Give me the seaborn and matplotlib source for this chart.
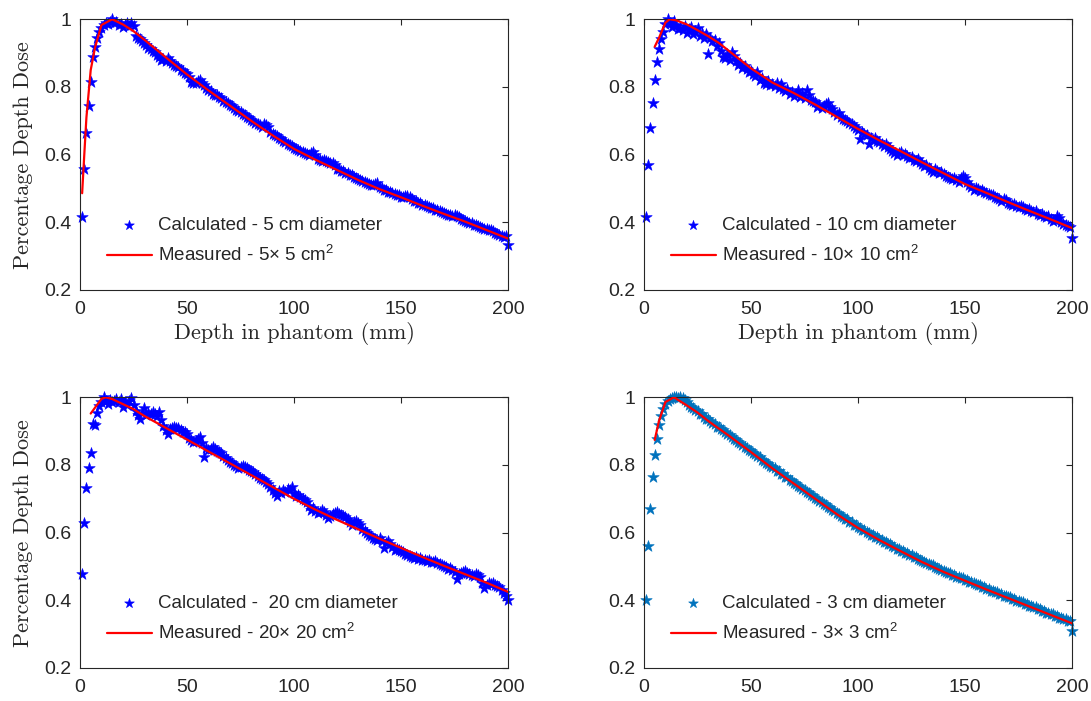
import numpy as np
import pandas as pd
import matplotlib
matplotlib.use("Agg")
import matplotlib.pyplot as plt
import seaborn as sns

# ---------------- data ----------------
depth_calc = np.arange(1, 201)  # mm, calculated points every 1 mm

calc_5cm = [
    0.417, 0.558, 0.664, 0.745, 0.815, 0.889, 0.918, 0.945, 0.962, 0.975,
    0.983, 0.990, 0.985, 0.992, 1.000, 0.988, 0.993, 0.982, 0.986, 0.976,
    0.984, 0.990, 0.981, 0.988, 0.979, 0.952, 0.946, 0.941, 0.937, 0.931,
    0.925, 0.915, 0.912, 0.905, 0.903, 0.895, 0.888, 0.880, 0.884, 0.878,
    0.886, 0.877, 0.872, 0.866, 0.862, 0.860, 0.851, 0.846, 0.840, 0.838,
    0.829, 0.815, 0.812, 0.813, 0.817, 0.820, 0.812, 0.806, 0.798, 0.791,
    0.789, 0.780, 0.775, 0.776, 0.771, 0.766, 0.760, 0.757, 0.752, 0.746,
    0.744, 0.739, 0.733, 0.730, 0.727, 0.720, 0.717, 0.712, 0.708, 0.703,
    0.699, 0.694, 0.691, 0.688, 0.683, 0.692, 0.688, 0.681, 0.668, 0.662,
    0.659, 0.654, 0.650, 0.646, 0.641, 0.638, 0.632, 0.629, 0.626, 0.620,
    0.618, 0.614, 0.612, 0.608, 0.604, 0.601, 0.598, 0.605, 0.608, 0.598,
    0.587, 0.583, 0.580, 0.583, 0.581, 0.579, 0.576, 0.574, 0.568, 0.559,
    0.557, 0.551, 0.552, 0.546, 0.546, 0.540, 0.539, 0.533, 0.532, 0.527,
    0.526, 0.521, 0.520, 0.516, 0.514, 0.510, 0.510, 0.514, 0.517, 0.503,
    0.501, 0.496, 0.495, 0.491, 0.490, 0.486, 0.485, 0.481, 0.480, 0.476,
    0.476, 0.478, 0.477, 0.474, 0.469, 0.464, 0.462, 0.458, 0.456, 0.452,
    0.451, 0.447, 0.446, 0.442, 0.441, 0.437, 0.436, 0.432, 0.431, 0.427,
    0.426, 0.423, 0.421, 0.418, 0.421, 0.420, 0.416, 0.410, 0.407, 0.404,
    0.402, 0.399, 0.397, 0.393, 0.392, 0.388, 0.387, 0.383, 0.381, 0.380,
    0.378, 0.377, 0.373, 0.368, 0.366, 0.363, 0.361, 0.357, 0.360, 0.333,
]

calc_10cm = [
    0.417, 0.568, 0.678, 0.752, 0.820, 0.875, 0.911, 0.942, 0.962, 0.985,
    1.000, 0.990, 0.978, 0.995, 0.982, 0.970, 0.975, 0.968, 0.980, 0.960,
    0.972, 0.978, 0.958, 0.966, 0.973, 0.952, 0.960, 0.945, 0.958, 0.897,
    0.945, 0.935, 0.940, 0.922, 0.930, 0.905, 0.890, 0.885, 0.898, 0.880,
    0.902, 0.893, 0.878, 0.865, 0.870, 0.856, 0.862, 0.852, 0.845, 0.848,
    0.838, 0.831, 0.843, 0.820, 0.827, 0.812, 0.808, 0.818, 0.805, 0.810,
    0.803, 0.812, 0.798, 0.808, 0.795, 0.788, 0.793, 0.780, 0.785, 0.773,
    0.778, 0.790, 0.770, 0.783, 0.766, 0.790, 0.776, 0.762, 0.758, 0.755,
    0.742, 0.748, 0.738, 0.745, 0.749, 0.752, 0.740, 0.735, 0.726, 0.718,
    0.722, 0.712, 0.706, 0.702, 0.698, 0.694, 0.690, 0.684, 0.678, 0.672,
    0.645, 0.668, 0.662, 0.657, 0.632, 0.650, 0.644, 0.648, 0.640, 0.636,
    0.632, 0.626, 0.630, 0.622, 0.616, 0.610, 0.605, 0.600, 0.606, 0.608,
    0.598, 0.602, 0.595, 0.590, 0.592, 0.585, 0.580, 0.588, 0.577, 0.572,
    0.566, 0.570, 0.562, 0.556, 0.550, 0.558, 0.552, 0.546, 0.548, 0.542,
    0.538, 0.535, 0.532, 0.528, 0.530, 0.524, 0.520, 0.532, 0.538, 0.530,
    0.518, 0.510, 0.505, 0.496, 0.500, 0.498, 0.492, 0.495, 0.490, 0.486,
    0.484, 0.480, 0.482, 0.476, 0.472, 0.468, 0.462, 0.470, 0.465, 0.458,
    0.455, 0.452, 0.454, 0.448, 0.445, 0.448, 0.444, 0.440, 0.436, 0.438,
    0.434, 0.430, 0.432, 0.426, 0.422, 0.425, 0.418, 0.415, 0.418, 0.410,
    0.405, 0.408, 0.418, 0.414, 0.400, 0.396, 0.392, 0.388, 0.385, 0.353,
]

calc_20cm = [
    0.478, 0.628, 0.733, 0.790, 0.834, 0.920, 0.918, 0.955, 0.975, 0.985,
    1.000, 0.988, 0.980, 0.992, 0.985, 0.990, 0.995, 0.986, 0.996, 0.972,
    0.985, 0.978, 0.990, 0.998, 0.976, 0.960, 0.947, 0.937, 0.955, 0.967,
    0.947, 0.955, 0.950, 0.958, 0.952, 0.945, 0.957, 0.932, 0.915, 0.903,
    0.893, 0.905, 0.910, 0.913, 0.908, 0.910, 0.902, 0.898, 0.898, 0.893,
    0.880, 0.874, 0.869, 0.872, 0.878, 0.883, 0.866, 0.825, 0.850, 0.844,
    0.848, 0.852, 0.846, 0.840, 0.839, 0.834, 0.827, 0.820, 0.815, 0.810,
    0.805, 0.800, 0.796, 0.790, 0.794, 0.797, 0.795, 0.790, 0.785, 0.782,
    0.778, 0.772, 0.766, 0.762, 0.758, 0.756, 0.751, 0.745, 0.735, 0.725,
    0.717, 0.707, 0.722, 0.718, 0.726, 0.720, 0.730, 0.725, 0.736, 0.717,
    0.707, 0.712, 0.705, 0.700, 0.697, 0.690, 0.680, 0.668, 0.672, 0.665,
    0.658, 0.662, 0.668, 0.660, 0.652, 0.643, 0.650, 0.655, 0.658, 0.660,
    0.656, 0.653, 0.648, 0.645, 0.640, 0.632, 0.624, 0.630, 0.633, 0.628,
    0.622, 0.612, 0.604, 0.600, 0.594, 0.589, 0.585, 0.582, 0.579, 0.585,
    0.575, 0.555, 0.568, 0.574, 0.565, 0.558, 0.550, 0.553, 0.548, 0.545,
    0.542, 0.538, 0.535, 0.532, 0.528, 0.525, 0.527, 0.522, 0.524, 0.520,
    0.520, 0.516, 0.518, 0.512, 0.514, 0.516, 0.510, 0.506, 0.504, 0.501,
    0.498, 0.494, 0.496, 0.490, 0.484, 0.462, 0.478, 0.482, 0.485, 0.486,
    0.480, 0.478, 0.476, 0.472, 0.478, 0.476, 0.468, 0.452, 0.437, 0.445,
    0.450, 0.448, 0.452, 0.446, 0.442, 0.438, 0.430, 0.422, 0.413, 0.400,
]

calc_3cm = [
    0.400, 0.560, 0.670, 0.764, 0.830, 0.878, 0.918, 0.945, 0.965, 0.980,
    0.990, 0.995, 0.998, 1.000, 1.000, 0.999, 1.000, 0.997, 0.993, 0.985,
    0.978, 0.970, 0.969, 0.961, 0.960, 0.952, 0.950, 0.943, 0.937, 0.935,
    0.929, 0.923, 0.921, 0.913, 0.912, 0.905, 0.902, 0.898, 0.891, 0.889,
    0.884, 0.878, 0.875, 0.867, 0.866, 0.860, 0.854, 0.851, 0.845, 0.842,
    0.835, 0.832, 0.826, 0.823, 0.816, 0.813, 0.806, 0.804, 0.797, 0.794,
    0.790, 0.783, 0.781, 0.774, 0.772, 0.765, 0.763, 0.756, 0.754, 0.747,
    0.745, 0.738, 0.736, 0.729, 0.727, 0.720, 0.718, 0.711, 0.709, 0.702,
    0.700, 0.693, 0.691, 0.684, 0.682, 0.675, 0.673, 0.666, 0.664, 0.657,
    0.655, 0.649, 0.647, 0.640, 0.639, 0.632, 0.630, 0.624, 0.622, 0.616,
    0.614, 0.608, 0.607, 0.601, 0.600, 0.594, 0.593, 0.587, 0.586, 0.580,
    0.579, 0.573, 0.572, 0.566, 0.566, 0.560, 0.559, 0.553, 0.552, 0.547,
    0.546, 0.540, 0.539, 0.534, 0.533, 0.528, 0.527, 0.521, 0.520, 0.515,
    0.514, 0.509, 0.508, 0.503, 0.503, 0.498, 0.497, 0.492, 0.491, 0.486,
    0.485, 0.481, 0.480, 0.476, 0.475, 0.470, 0.470, 0.465, 0.465, 0.460,
    0.459, 0.455, 0.454, 0.450, 0.449, 0.444, 0.444, 0.439, 0.439, 0.434,
    0.434, 0.429, 0.429, 0.424, 0.424, 0.419, 0.419, 0.414, 0.414, 0.409,
    0.409, 0.404, 0.404, 0.399, 0.399, 0.394, 0.394, 0.389, 0.389, 0.384,
    0.384, 0.379, 0.379, 0.374, 0.374, 0.369, 0.369, 0.364, 0.364, 0.359,
    0.359, 0.354, 0.354, 0.349, 0.349, 0.344, 0.344, 0.339, 0.338, 0.310,
]

meas_5_depth = [1, 2, 3, 5, 7, 10, 15, 20, 25, 30, 40, 50, 60, 70, 80, 90, 100,
                110, 120, 130, 140, 150, 160, 170, 180, 190, 200]
meas_5cm = [0.486, 0.600, 0.710, 0.850, 0.916, 0.983, 1.000, 0.985, 0.965, 0.940,
            0.888, 0.837, 0.790, 0.745, 0.700, 0.657, 0.617, 0.585, 0.555, 0.525,
            0.498, 0.474, 0.449, 0.425, 0.402, 0.377, 0.352]

meas_10_depth = [5, 7, 10, 12, 15, 20, 25, 30, 35, 40, 50, 60, 70, 80, 90, 100,
                 110, 120, 130, 140, 150, 160, 170, 180, 190, 200]
meas_10cm = [0.919, 0.945, 0.990, 1.000, 0.997, 0.985, 0.968, 0.950, 0.930, 0.905,
             0.855, 0.813, 0.782, 0.748, 0.712, 0.676, 0.642, 0.610, 0.577, 0.545,
             0.513, 0.487, 0.460, 0.434, 0.409, 0.383]

meas_20_depth = [5, 10, 12, 15, 20, 25, 30, 40, 50, 60, 70, 80, 90, 100,
                 110, 120, 130, 140, 150, 160, 170, 180, 190, 200]
meas_20cm = [0.952, 0.995, 1.000, 0.995, 0.980, 0.965, 0.945, 0.910, 0.875, 0.840,
             0.805, 0.770, 0.735, 0.700, 0.668, 0.638, 0.610, 0.582, 0.555, 0.528,
             0.502, 0.477, 0.452, 0.425]

meas_3_depth = [5, 7, 10, 14, 20, 25, 30, 40, 50, 60, 70, 80, 90, 100,
                110, 120, 130, 140, 150, 160, 170, 180, 190, 200]
meas_3cm = [0.874, 0.930, 0.986, 1.000, 0.976, 0.955, 0.930, 0.885, 0.838, 0.790,
            0.745, 0.700, 0.655, 0.614, 0.578, 0.545, 0.513, 0.484, 0.458, 0.432,
            0.407, 0.382, 0.357, 0.332]

calc_labels = ["Calculated - 5 cm diameter", "Calculated - 10 cm diameter",
               "Calculated -  20 cm diameter", "Calculated - 3 cm diameter"]
meas_labels = ["Measured - 5\u00d7 5 cm$^2$", "Measured - 10\u00d7 10 cm$^2$",
               "Measured - 20\u00d7 20 cm$^2$", "Measured - 3\u00d7 3 cm$^2$"]
x_ticks = [0, 50, 100, 150, 200]
y_ticks = [0.2, 0.4, 0.6, 0.8, 1.0]
y_tick_labels = ["0.2", "0.4", "0.6", "0.8", "1"]
x_label = "Depth in phantom (mm)"
y_label = "Percentage Depth Dose"

# ---------------- style ----------------
sns.set_theme(style="white")
plt.rcParams["font.family"] = ["Liberation Sans", "DejaVu Sans"]
plt.rcParams["mathtext.fontset"] = "custom"
plt.rcParams["mathtext.rm"] = "Liberation Sans"
plt.rcParams["mathtext.it"] = "Liberation Sans:italic"
plt.rcParams["axes.unicode_minus"] = False

DARK = "#262626"
fig = plt.figure(figsize=(10.91, 7.01), dpi=100)

W = 1091.0
H = 701.0
lefts = [80 / W, 644 / W]
width = 428 / W
bottoms = [1 - 290 / H, 1 - 668 / H]
height = 270.7 / H

panels = [
    (calc_5cm, meas_5_depth, meas_5cm, "#0000FF", 0, 0),
    (calc_10cm, meas_10_depth, meas_10cm, "#0000FF", 0, 1),
    (calc_20cm, meas_20_depth, meas_20cm, "#0000FF", 1, 0),
    (calc_3cm, meas_3_depth, meas_3cm, "#0072BD", 1, 1),
]

for i, (calc, mdepth, meas, col, r, c) in enumerate(panels):
    ax = fig.add_axes([lefts[c], bottoms[r], width, height])
    df_c = pd.DataFrame({"depth": depth_calc, "dose": calc})
    df_m = pd.DataFrame({"depth": mdepth, "dose": meas})
    sns.scatterplot(data=df_c, x="depth", y="dose", ax=ax, marker="*", s=75,
                    color=col, edgecolor=col, linewidth=0.4, alpha=1.0,
                    label=calc_labels[i], zorder=2, clip_on=False)
    sns.lineplot(data=df_m, x="depth", y="dose", ax=ax, color="#FF0000",
                 linewidth=1.6, label=meas_labels[i], zorder=3)
    ax.set_xlim(0, 200)
    ax.set_ylim(0.2, 1.0)
    ax.set_xticks(x_ticks)
    ax.set_xticklabels([str(t) for t in x_ticks])
    ax.set_yticks(y_ticks)
    ax.set_yticklabels(y_tick_labels)
    ax.tick_params(direction="in", top=True, right=True, length=4, width=0.8,
                   labelsize=14, colors=DARK)
    ax.tick_params(axis="x", pad=8)
    ax.tick_params(axis="y", pad=6)
    for sp in ax.spines.values():
        sp.set_color(DARK)
        sp.set_linewidth(0.8)
        sp.set_visible(True)
    if r == 0:
        ax.set_xlabel(x_label, fontfamily="cmr10", fontsize=16, color=DARK, labelpad=3)
    else:
        ax.set_xlabel("")
    if c == 0:
        ax.set_ylabel(y_label, fontfamily="cmr10", fontsize=16, color=DARK, labelpad=8)
    else:
        ax.set_ylabel("")
    handles, labels = ax.get_legend_handles_labels()
    ax.legend(handles, labels, loc="upper left", bbox_to_anchor=(0.063, 0.27),
              frameon=False, fontsize=13.5, handlelength=2.4, handletextpad=0.3,
              labelspacing=0.6, borderpad=0, borderaxespad=0, scatterpoints=1,
              markerscale=0.85)

fig.savefig("out.png", dpi=100)
